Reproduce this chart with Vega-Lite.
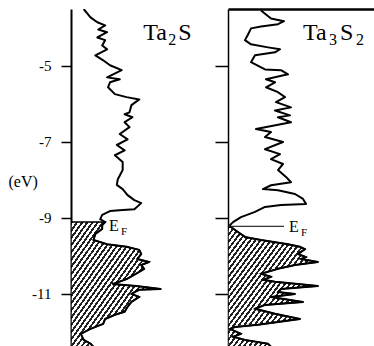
{
  "$schema": "https://vega.github.io/schema/vega-lite/v6.json",
  "padding": {"left": 8, "top": 9, "right": 0, "bottom": 0},
  "spacing": -13,
  "config": {
    "view": {"stroke": null},
    "font": "Liberation Serif",
    "text": {"font": "Liberation Serif", "color": "black", "align": "left", "baseline": "alphabetic"},
    "area": {
      "fill": {
        "gradient": "linear", "x1": 0, "y1": 0, "x2": 1, "y2": 1,
        "stops": [
          {"offset":0,"color":"#222"},{"offset":0.0129,"color":"#222"},{"offset":0.0129,"color":"#fff"},{"offset":0.0286,"color":"#fff"},
          {"offset":0.0286,"color":"#222"},{"offset":0.0414,"color":"#222"},{"offset":0.0414,"color":"#fff"},{"offset":0.0571,"color":"#fff"},
          {"offset":0.0571,"color":"#222"},{"offset":0.07,"color":"#222"},{"offset":0.07,"color":"#fff"},{"offset":0.0857,"color":"#fff"},
          {"offset":0.0857,"color":"#222"},{"offset":0.0986,"color":"#222"},{"offset":0.0986,"color":"#fff"},{"offset":0.1143,"color":"#fff"},
          {"offset":0.1143,"color":"#222"},{"offset":0.1271,"color":"#222"},{"offset":0.1271,"color":"#fff"},{"offset":0.1429,"color":"#fff"},
          {"offset":0.1429,"color":"#222"},{"offset":0.1557,"color":"#222"},{"offset":0.1557,"color":"#fff"},{"offset":0.1714,"color":"#fff"},
          {"offset":0.1714,"color":"#222"},{"offset":0.1843,"color":"#222"},{"offset":0.1843,"color":"#fff"},{"offset":0.2,"color":"#fff"},
          {"offset":0.2,"color":"#222"},{"offset":0.2129,"color":"#222"},{"offset":0.2129,"color":"#fff"},{"offset":0.2286,"color":"#fff"},
          {"offset":0.2286,"color":"#222"},{"offset":0.2414,"color":"#222"},{"offset":0.2414,"color":"#fff"},{"offset":0.2571,"color":"#fff"},
          {"offset":0.2571,"color":"#222"},{"offset":0.27,"color":"#222"},{"offset":0.27,"color":"#fff"},{"offset":0.2857,"color":"#fff"},
          {"offset":0.2857,"color":"#222"},{"offset":0.2986,"color":"#222"},{"offset":0.2986,"color":"#fff"},{"offset":0.3143,"color":"#fff"},
          {"offset":0.3143,"color":"#222"},{"offset":0.3271,"color":"#222"},{"offset":0.3271,"color":"#fff"},{"offset":0.3429,"color":"#fff"},
          {"offset":0.3429,"color":"#222"},{"offset":0.3557,"color":"#222"},{"offset":0.3557,"color":"#fff"},{"offset":0.3714,"color":"#fff"},
          {"offset":0.3714,"color":"#222"},{"offset":0.3843,"color":"#222"},{"offset":0.3843,"color":"#fff"},{"offset":0.4,"color":"#fff"},
          {"offset":0.4,"color":"#222"},{"offset":0.4129,"color":"#222"},{"offset":0.4129,"color":"#fff"},{"offset":0.4286,"color":"#fff"},
          {"offset":0.4286,"color":"#222"},{"offset":0.4414,"color":"#222"},{"offset":0.4414,"color":"#fff"},{"offset":0.4571,"color":"#fff"},
          {"offset":0.4571,"color":"#222"},{"offset":0.47,"color":"#222"},{"offset":0.47,"color":"#fff"},{"offset":0.4857,"color":"#fff"},
          {"offset":0.4857,"color":"#222"},{"offset":0.4986,"color":"#222"},{"offset":0.4986,"color":"#fff"},{"offset":0.5143,"color":"#fff"},
          {"offset":0.5143,"color":"#222"},{"offset":0.5271,"color":"#222"},{"offset":0.5271,"color":"#fff"},{"offset":0.5429,"color":"#fff"},
          {"offset":0.5429,"color":"#222"},{"offset":0.5557,"color":"#222"},{"offset":0.5557,"color":"#fff"},{"offset":0.5714,"color":"#fff"},
          {"offset":0.5714,"color":"#222"},{"offset":0.5843,"color":"#222"},{"offset":0.5843,"color":"#fff"},{"offset":0.6,"color":"#fff"},
          {"offset":0.6,"color":"#222"},{"offset":0.6129,"color":"#222"},{"offset":0.6129,"color":"#fff"},{"offset":0.6286,"color":"#fff"},
          {"offset":0.6286,"color":"#222"},{"offset":0.6414,"color":"#222"},{"offset":0.6414,"color":"#fff"},{"offset":0.6571,"color":"#fff"},
          {"offset":0.6571,"color":"#222"},{"offset":0.67,"color":"#222"},{"offset":0.67,"color":"#fff"},{"offset":0.6857,"color":"#fff"},
          {"offset":0.6857,"color":"#222"},{"offset":0.6986,"color":"#222"},{"offset":0.6986,"color":"#fff"},{"offset":0.7143,"color":"#fff"},
          {"offset":0.7143,"color":"#222"},{"offset":0.7271,"color":"#222"},{"offset":0.7271,"color":"#fff"},{"offset":0.7429,"color":"#fff"},
          {"offset":0.7429,"color":"#222"},{"offset":0.7557,"color":"#222"},{"offset":0.7557,"color":"#fff"},{"offset":0.7714,"color":"#fff"},
          {"offset":0.7714,"color":"#222"},{"offset":0.7843,"color":"#222"},{"offset":0.7843,"color":"#fff"},{"offset":0.8,"color":"#fff"},
          {"offset":0.8,"color":"#222"},{"offset":0.8129,"color":"#222"},{"offset":0.8129,"color":"#fff"},{"offset":0.8286,"color":"#fff"},
          {"offset":0.8286,"color":"#222"},{"offset":0.8414,"color":"#222"},{"offset":0.8414,"color":"#fff"},{"offset":0.8571,"color":"#fff"},
          {"offset":0.8571,"color":"#222"},{"offset":0.87,"color":"#222"},{"offset":0.87,"color":"#fff"},{"offset":0.8857,"color":"#fff"},
          {"offset":0.8857,"color":"#222"},{"offset":0.8986,"color":"#222"},{"offset":0.8986,"color":"#fff"},{"offset":0.9143,"color":"#fff"},
          {"offset":0.9143,"color":"#222"},{"offset":0.9271,"color":"#222"},{"offset":0.9271,"color":"#fff"},{"offset":0.9429,"color":"#fff"},
          {"offset":0.9429,"color":"#222"},{"offset":0.9557,"color":"#222"},{"offset":0.9557,"color":"#fff"},{"offset":0.9714,"color":"#fff"},
          {"offset":0.9714,"color":"#222"},{"offset":0.9843,"color":"#222"},{"offset":0.9843,"color":"#fff"},{"offset":1,"color":"#fff"}
        ]
      }
    }
  },
  "datasets": {
    "ta2s": [
      {"E":-3.50,"dos":13},{"E":-3.72,"dos":20},{"E":-3.85,"dos":27},{"E":-3.93,"dos":35},{"E":-4.04,"dos":28},
      {"E":-4.11,"dos":37},{"E":-4.25,"dos":27},{"E":-4.32,"dos":35},{"E":-4.46,"dos":32},{"E":-4.56,"dos":37},
      {"E":-4.72,"dos":25},{"E":-4.85,"dos":33},{"E":-4.98,"dos":40},{"E":-5.11,"dos":52},{"E":-5.30,"dos":37},
      {"E":-5.35,"dos":50},{"E":-5.43,"dos":40},{"E":-5.56,"dos":38},{"E":-5.74,"dos":45},{"E":-5.82,"dos":57},
      {"E":-5.88,"dos":70},{"E":-6.03,"dos":62},{"E":-6.22,"dos":60},{"E":-6.27,"dos":55},{"E":-6.35,"dos":63},
      {"E":-6.48,"dos":55},{"E":-6.61,"dos":60},{"E":-6.79,"dos":50},{"E":-6.93,"dos":58},{"E":-7.08,"dos":47},
      {"E":-7.22,"dos":55},{"E":-7.35,"dos":45},{"E":-7.53,"dos":53},{"E":-7.74,"dos":53},{"E":-7.98,"dos":48},
      {"E":-8.13,"dos":47},{"E":-8.24,"dos":53},{"E":-8.40,"dos":58},{"E":-8.53,"dos":65},{"E":-8.61,"dos":72},
      {"E":-8.77,"dos":65},{"E":-8.79,"dos":53},{"E":-8.82,"dos":40},{"E":-8.92,"dos":32},{"E":-9.03,"dos":30},
      {"E":-9.11,"dos":35},{"E":-9.19,"dos":32},{"E":-9.29,"dos":32},{"E":-9.42,"dos":25},{"E":-9.58,"dos":23},
      {"E":-9.69,"dos":37},{"E":-9.76,"dos":57},{"E":-9.84,"dos":70},{"E":-9.95,"dos":72},{"E":-10.08,"dos":68},
      {"E":-10.16,"dos":80},{"E":-10.24,"dos":72},{"E":-10.34,"dos":75},{"E":-10.42,"dos":70},{"E":-10.61,"dos":57},
      {"E":-10.74,"dos":43},{"E":-10.79,"dos":67},{"E":-10.87,"dos":92},{"E":-10.89,"dos":70},{"E":-11.00,"dos":62},
      {"E":-11.08,"dos":70},{"E":-11.21,"dos":62},{"E":-11.34,"dos":58},{"E":-11.47,"dos":55},{"E":-11.55,"dos":45},
      {"E":-11.66,"dos":35},{"E":-11.79,"dos":33},{"E":-11.92,"dos":20},{"E":-12.05,"dos":10},{"E":-12.21,"dos":13},
      {"E":-12.31,"dos":20},{"E":-12.45,"dos":25}
    ],
    "ta3s2": [
      {"E":-3.54,"dos":33},{"E":-3.75,"dos":43},{"E":-3.82,"dos":56},{"E":-3.90,"dos":50},{"E":-3.96,"dos":33},
      {"E":-4.01,"dos":23},{"E":-4.17,"dos":20},{"E":-4.32,"dos":17},{"E":-4.43,"dos":23},{"E":-4.51,"dos":40},
      {"E":-4.56,"dos":52},{"E":-4.64,"dos":47},{"E":-4.72,"dos":27},{"E":-4.90,"dos":23},{"E":-5.09,"dos":37},
      {"E":-5.11,"dos":53},{"E":-5.22,"dos":60},{"E":-5.35,"dos":38},{"E":-5.43,"dos":47},{"E":-5.56,"dos":38},
      {"E":-5.69,"dos":50},{"E":-5.82,"dos":57},{"E":-5.95,"dos":48},{"E":-6.09,"dos":63},{"E":-6.17,"dos":47},
      {"E":-6.30,"dos":62},{"E":-6.35,"dos":50},{"E":-6.48,"dos":63},{"E":-6.66,"dos":28},{"E":-6.74,"dos":43},
      {"E":-6.87,"dos":37},{"E":-7.00,"dos":55},{"E":-7.19,"dos":37},{"E":-7.32,"dos":52},{"E":-7.45,"dos":43},
      {"E":-7.58,"dos":55},{"E":-7.74,"dos":50},{"E":-7.92,"dos":58},{"E":-8.06,"dos":63},{"E":-8.14,"dos":43},
      {"E":-8.24,"dos":35},{"E":-8.27,"dos":50},{"E":-8.37,"dos":67},{"E":-8.50,"dos":75},{"E":-8.63,"dos":78},
      {"E":-8.66,"dos":53},{"E":-8.71,"dos":37},{"E":-8.84,"dos":27},{"E":-8.98,"dos":13},{"E":-9.11,"dos":5},
      {"E":-9.19,"dos":2},{"E":-9.24,"dos":3},{"E":-9.37,"dos":10},{"E":-9.50,"dos":17},{"E":-9.58,"dos":33},
      {"E":-9.69,"dos":60},{"E":-9.76,"dos":72},{"E":-9.82,"dos":77},{"E":-9.95,"dos":70},{"E":-10.03,"dos":78},
      {"E":-10.08,"dos":73},{"E":-10.16,"dos":90},{"E":-10.24,"dos":67},{"E":-10.34,"dos":50},{"E":-10.47,"dos":33},
      {"E":-10.55,"dos":43},{"E":-10.63,"dos":35},{"E":-10.68,"dos":47},{"E":-10.79,"dos":90},{"E":-10.87,"dos":53},
      {"E":-10.95,"dos":50},{"E":-11.00,"dos":67},{"E":-11.08,"dos":43},{"E":-11.21,"dos":75},{"E":-11.29,"dos":37},
      {"E":-11.39,"dos":27},{"E":-11.52,"dos":47},{"E":-11.66,"dos":72},{"E":-11.74,"dos":50},{"E":-11.81,"dos":30},
      {"E":-11.87,"dos":7},{"E":-11.92,"dos":2},{"E":-12.05,"dos":13},{"E":-12.13,"dos":5},{"E":-12.21,"dos":17},
      {"E":-12.31,"dos":40},{"E":-12.45,"dos":45}
    ]
  },
  "hconcat": [
    {
      "width": 156,
      "height": 340,
      "layer": [
        {
          "data": {"name": "ta2s"},
          "transform": [{"filter": "datum.E <= -9.11"}],
          "mark": {"type": "area", "orient": "horizontal", "stroke": "black", "strokeWidth": 1.5, "clip": true},
          "encoding": {
            "y": {"field": "E", "type": "quantitative", "scale": {"domain": [-12.45, -3.5], "nice": false, "zero": false},
              "axis": {"values": [-5, -7, -9, -11], "title": "(eV)", "titleAngle": 0, "titleX": -63, "titleY": 172, "titleAlign": "left", "titleBaseline": "middle", "titleFont": "Liberation Serif", "titleFontSize": 16, "titleFontWeight": "normal", "titleColor": "black",
                "labelExpr": "'-' + abs(datum.value)",
                "labelFont": "Liberation Serif", "labelFontSize": 15, "labelColor": "black", "labelPadding": 10, "tickSize": 10, "tickWidth": 1.5, "tickColor": "black", "domainColor": "black", "domainWidth": 2, "grid": false}},
            "x": {"field": "dos", "type": "quantitative", "scale": {"domain": [0, 156]}, "axis": null, "stack": null}
          }
        },
        {
          "data": {"name": "ta2s"},
          "mark": {"type": "line", "color": "black", "strokeWidth": 2, "strokeJoin": "round", "clip": true},
          "encoding": {
            "y": {"field": "E", "type": "quantitative"},
            "x": {"field": "dos", "type": "quantitative"},
            "order": {"field": "E", "type": "quantitative"}
          }
        },
        {
          "data": {"values": [{"dos": 74, "E": -4.31, "label": "Ta"}]},
          "mark": {"type": "text", "fontSize": 24},
          "encoding": {"x": {"field": "dos", "type": "quantitative"}, "y": {"field": "E", "type": "quantitative"}, "text": {"field": "label"}}
        },
        {
          "data": {"values": [{"dos": 74, "E": -4.31, "label": "2"}]},
          "mark": {"type": "text", "fontSize": 16, "dx": 25, "dy": 5},
          "encoding": {"x": {"field": "dos", "type": "quantitative"}, "y": {"field": "E", "type": "quantitative"}, "text": {"field": "label"}}
        },
        {
          "data": {"values": [{"dos": 74, "E": -4.31, "label": "S"}]},
          "mark": {"type": "text", "fontSize": 24, "dx": 35},
          "encoding": {"x": {"field": "dos", "type": "quantitative"}, "y": {"field": "E", "type": "quantitative"}, "text": {"field": "label"}}
        },
        {
          "data": {"values": [{"dos": 39, "E": -9.34, "label": "E"}]},
          "mark": {"type": "text", "fontSize": 16},
          "encoding": {"x": {"field": "dos", "type": "quantitative"}, "y": {"field": "E", "type": "quantitative"}, "text": {"field": "label"}}
        },
        {
          "data": {"values": [{"dos": 39, "E": -9.34, "label": "F"}]},
          "mark": {"type": "text", "fontSize": 11, "dx": 12, "dy": 4},
          "encoding": {"x": {"field": "dos", "type": "quantitative"}, "y": {"field": "E", "type": "quantitative"}, "text": {"field": "label"}}
        }
      ]
    },
    {
      "width": 160,
      "height": 340,
      "layer": [
        {
          "data": {"name": "ta3s2"},
          "transform": [{"filter": "datum.E <= -9.24"}],
          "mark": {"type": "area", "orient": "horizontal", "stroke": "black", "strokeWidth": 1.5, "clip": true},
          "encoding": {
            "y": {"field": "E", "type": "quantitative", "scale": {"domain": [-12.45, -3.5], "nice": false, "zero": false},
              "axis": {"values": [-5, -7, -9, -11], "title": null, "labels": false, "tickSize": 13, "tickWidth": 1.5, "tickColor": "black", "domainColor": "black", "domainWidth": 1.5, "grid": false}},
            "x": {"field": "dos", "type": "quantitative", "scale": {"domain": [0, 160]}, "stack": null,
              "axis": {"orient": "top", "title": null, "labels": false, "ticks": false, "grid": false, "domainColor": "black", "domainWidth": 2.5}}
          }
        },
        {
          "data": {"name": "ta3s2"},
          "mark": {"type": "line", "color": "black", "strokeWidth": 2, "strokeJoin": "round", "clip": true},
          "encoding": {
            "y": {"field": "E", "type": "quantitative"},
            "x": {"field": "dos", "type": "quantitative"},
            "order": {"field": "E", "type": "quantitative"}
          }
        },
        {
          "data": {"values": [{"dos": 4, "dos2": 56, "E": -9.22}]},
          "mark": {"type": "rule", "color": "black", "strokeWidth": 1},
          "encoding": {"x": {"field": "dos", "type": "quantitative"}, "x2": {"field": "dos2"}, "y": {"field": "E", "type": "quantitative"}}
        },
        {
          "data": {"values": [{"dos": 75, "E": -4.31, "label": "Ta"}]},
          "mark": {"type": "text", "fontSize": 24},
          "encoding": {"x": {"field": "dos", "type": "quantitative"}, "y": {"field": "E", "type": "quantitative"}, "text": {"field": "label"}}
        },
        {
          "data": {"values": [{"dos": 75, "E": -4.31, "label": "3"}]},
          "mark": {"type": "text", "fontSize": 16, "dx": 26, "dy": 5},
          "encoding": {"x": {"field": "dos", "type": "quantitative"}, "y": {"field": "E", "type": "quantitative"}, "text": {"field": "label"}}
        },
        {
          "data": {"values": [{"dos": 75, "E": -4.31, "label": "S"}]},
          "mark": {"type": "text", "fontSize": 24, "dx": 37},
          "encoding": {"x": {"field": "dos", "type": "quantitative"}, "y": {"field": "E", "type": "quantitative"}, "text": {"field": "label"}}
        },
        {
          "data": {"values": [{"dos": 75, "E": -4.31, "label": "2"}]},
          "mark": {"type": "text", "fontSize": 16, "dx": 53, "dy": 5},
          "encoding": {"x": {"field": "dos", "type": "quantitative"}, "y": {"field": "E", "type": "quantitative"}, "text": {"field": "label"}}
        },
        {
          "data": {"values": [{"dos": 61, "E": -9.37, "label": "E"}]},
          "mark": {"type": "text", "fontSize": 16},
          "encoding": {"x": {"field": "dos", "type": "quantitative"}, "y": {"field": "E", "type": "quantitative"}, "text": {"field": "label"}}
        },
        {
          "data": {"values": [{"dos": 61, "E": -9.37, "label": "F"}]},
          "mark": {"type": "text", "fontSize": 11, "dx": 12, "dy": 4},
          "encoding": {"x": {"field": "dos", "type": "quantitative"}, "y": {"field": "E", "type": "quantitative"}, "text": {"field": "label"}}
        }
      ]
    }
  ]
}
